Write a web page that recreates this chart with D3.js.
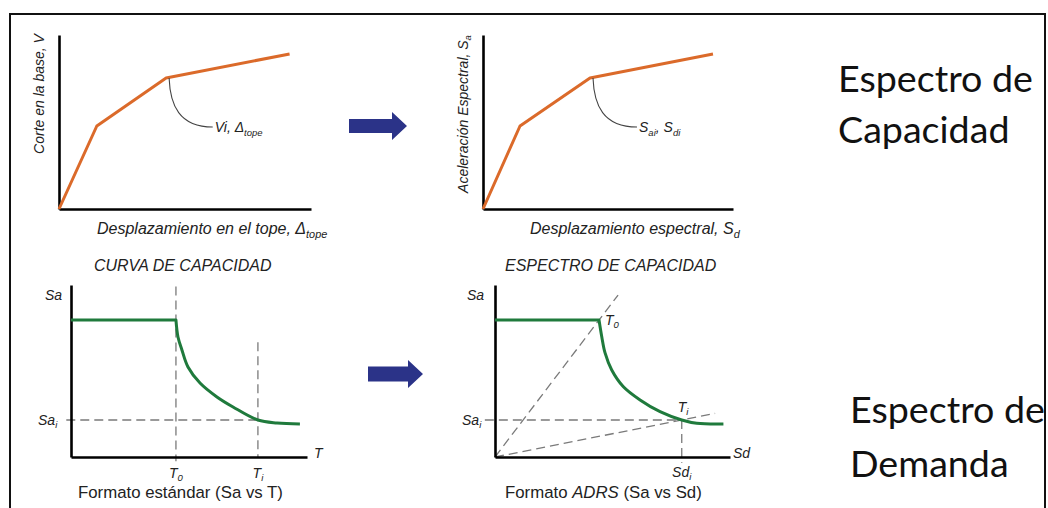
<!DOCTYPE html>
<html><head><meta charset="utf-8">
<script src="https://cdn.jsdelivr.net/npm/d3@7"></script>
<style>
html,body{margin:0;padding:0;background:#fff;}
text{font-family:"Liberation Sans",Arial,sans-serif;fill:#222;}
.big{font-family:Lato,"Open Sans",sans-serif;fill:#111;}
</style></head>
<body>
<svg id="c" width="1048" height="508"></svg>
<script>
// ---- data ----
// capacity curve (base shear vs top displacement)
const capDisp  = [0, 1.5, 4.25, 9.15];
const capShear = [0, 4.77, 7.53, 8.91];
const capCallout = {index: 2, labelX: 6.1, labelY: 4.71};
// capacity spectrum (Sa vs Sd)
const specSd = [0, 1.48, 4.28, 9.2];
const specSa = [0, 4.77, 7.53, 8.91];
const specCallout = {index: 2, labelX: 6.16, labelY: 4.71};
// demand spectrum, standard format (Sa vs T)
const stdT  = [0, 1.334, 1.36, 1.41, 1.487, 1.64, 1.855, 2.06, 2.376, 2.62, 2.91];
const stdSa = [0.956, 0.956, 0.837, 0.747, 0.628, 0.516, 0.419, 0.349, 0.258, 0.237, 0.230];
const stdT0 = 1.334, stdTi = 2.376, stdSai = 0.258, stdTiTop = 0.80, stdT0Top = 1.19;
// demand spectrum, ADRS format (Sa vs Sd)
const adrsSd = [0, 1.328, 1.363, 1.405, 1.49, 1.639, 1.852, 2.107, 2.384, 2.576, 2.916];
const adrsSa = [0.956, 0.956, 0.839, 0.726, 0.607, 0.49, 0.398, 0.316, 0.258, 0.235, 0.230];
const adrsSd0 = 1.328, adrsSdi = 2.384, adrsSai = 0.258;
const adrsRay1End = [1.571, 1.13];
const adrsRay2End = [2.81, 0.304];

const svg = d3.select("#c");
svg.append("rect").attr("width",1048).attr("height",508).attr("fill","#fff");
// frame
svg.append("rect").attr("x",10).attr("y",14).attr("width",1035).attr("height",520)
  .attr("fill","none").attr("stroke","#111").attr("stroke-width",2);

const ORANGE = "#db6a2a", GREEN = "#1f7a3c", DASH = "#7a7a7a";

function axes(g, x, y){
  g.append("g").attr("transform",`translate(0,${y.range()[0]})`)
    .call(d3.axisBottom(x).ticks(0).tickSizeOuter(0))
    .call(s=>s.select(".domain").attr("stroke","#000").attr("stroke-width",2.6));
  g.append("g").attr("transform",`translate(${x.range()[0]},0)`)
    .call(d3.axisLeft(y).ticks(0).tickSizeOuter(0))
    .call(s=>s.select(".domain").attr("stroke","#000").attr("stroke-width",2.6));
}
function addText(g, x, y, parts, opts={}){
  const size = opts.size||16, sd = opts.subDy||4;
  const t = g.append("text").attr("x",x).attr("y",y)
    .attr("font-size",size).attr("font-style",opts.italic===false?"normal":"italic")
    .attr("text-anchor",opts.anchor||"start");
  if(opts.transform) t.attr("transform",opts.transform).attr("x",0).attr("y",0);
  let pending = 0;
  parts.forEach(p=>{
    let ts;
    if(typeof p === "string") ts = t.append("tspan").text(p);
    else if(p.sub){
      ts = t.append("tspan").attr("font-size",size*0.68).text(p.sub);
      ts.attr("dy", pending + sd); pending = -sd; return;
    } else if(p.it){
      ts = t.append("tspan").attr("font-style","italic").text(p.it);
    }
    if(pending){ ts.attr("dy",pending); pending = 0; }
  });
  return t;
}
function capPanel(xs, ys, xd, yd, callout, labelParts){
  const g = svg.append("g");
  const x = d3.scaleLinear().domain([0,10]).range(xs);
  const y = d3.scaleLinear().domain([0,10]).range(ys);
  axes(g,x,y);
  const pts = xd.map((d,i)=>[d,yd[i]]);
  g.append("path").datum(pts).attr("fill","none").attr("stroke",ORANGE).attr("stroke-width",3)
    .attr("stroke-linejoin","round")
    .attr("d", d3.line().x(d=>x(d[0])).y(d=>y(d[1])));
  const k = [x(xd[callout.index])+3, y(yd[callout.index])];
  const l = [x(callout.labelX), y(callout.labelY)];
  const p = d3.path();
  p.moveTo(k[0],k[1]);
  p.bezierCurveTo(k[0]+1, k[1]+27, k[0]+10, l[1], l[0], l[1]);
  g.append("path").attr("d",p.toString()).attr("fill","none").attr("stroke","#444").attr("stroke-width",1.1);
  addText(g, l[0]+2, l[1]+5, labelParts, {size:14});
  return {g,x,y};
}
function demandCurve(g, x, y, xs, ys){
  const pts = xs.map((d,i)=>[d,ys[i]]);
  const plateau = d3.line().x(d=>x(d[0])).y(d=>y(d[1]))(pts.slice(0,2));
  const drop = d3.line().x(d=>x(d[0])).y(d=>y(d[1])).curve(d3.curveCatmullRom.alpha(0.5))(pts.slice(1));
  g.append("path").attr("d", plateau + drop.replace(/^M[^A-Za-z]*/, m=>"L"+m.slice(1)))
    .attr("fill","none").attr("stroke",GREEN).attr("stroke-width",3).attr("stroke-linejoin","round");
}

// ---- panel 1 ----
const p1 = capPanel([59,311],[209,35], capDisp, capShear, capCallout, ["Vi, Δ",{sub:"tope"}]);
addText(p1.g, 97, 234, ["Desplazamiento en el tope, Δ",{sub:"tope"}], {size:16});
addText(p1.g, 0, 0, ["Corte en la base, V"], {size:14, anchor:"middle", transform:"translate(44,94) rotate(-90)"});
addText(p1.g, 94, 271, ["CURVA DE CAPACIDAD"], {size:16});

// ---- panel 2 ----
const p2 = capPanel([483,733],[209,35], specSd, specSa, specCallout, ["S",{sub:"ai"},", S",{sub:"di"}]);
addText(p2.g, 530, 234, ["Desplazamiento espectral, S",{sub:"d"}], {size:16});
addText(p2.g, 0, 0, ["Aceleración Espectral, S",{sub:"a"}], {size:14, anchor:"middle", transform:"translate(468,114) rotate(-90)", subDy:3});
addText(p2.g, 505, 271, ["ESPECTRO DE CAPACIDAD"], {size:16});

// ---- panel 3 ----
{
  const g = svg.append("g");
  const x = d3.scaleLinear().domain([0,3]).range([71,307]);
  const y = d3.scaleLinear().domain([0,1.2]).range([457,285]);
  const dl = (x1,y1,x2,y2)=>g.append("line").attr("x1",x(x1)).attr("y1",y(y1)).attr("x2",x(x2)).attr("y2",y(y2))
      .attr("stroke",DASH).attr("stroke-width",1.3).attr("stroke-dasharray","9,5");
  dl(stdT0, stdT0Top, stdT0, -0.03);
  dl(stdTi, stdTiTop, stdTi, 0);
  dl(-0.06, stdSai, stdTi, stdSai);
  axes(g,x,y);
  demandCurve(g, x, y, stdT, stdSa);
  addText(g, 45, 300, ["Sa"], {size:14});
  addText(g, 38, 425, ["Sa",{sub:"i"}], {size:14, subDy:3});
  addText(g, 314, 458, ["T"], {size:14});
  addText(g, x(stdT0), 478, ["T",{sub:"0"}], {size:14, anchor:"middle", subDy:3});
  addText(g, x(stdTi), 478, ["T",{sub:"i"}], {size:14, anchor:"middle", subDy:3});
  addText(g, 78, 498, ["Formato estándar (Sa vs T)"], {size:16.8, italic:false});
}

// ---- panel 4 ----
{
  const g = svg.append("g");
  const x = d3.scaleLinear().domain([0,3]).range([495,730]);
  const y = d3.scaleLinear().domain([0,1.2]).range([457,285]);
  const dl = (x1,y1,x2,y2)=>g.append("line").attr("x1",x(x1)).attr("y1",y(y1)).attr("x2",x(x2)).attr("y2",y(y2))
      .attr("stroke",DASH).attr("stroke-width",1.3).attr("stroke-dasharray","9,5");
  dl(0, 0, adrsRay1End[0], adrsRay1End[1]);
  dl(0, 0, adrsRay2End[0], adrsRay2End[1]);
  dl(-0.13, adrsSai, adrsSdi, adrsSai);
  dl(adrsSdi, adrsSai, adrsSdi, -0.04);
  axes(g,x,y);
  demandCurve(g, x, y, adrsSd, adrsSa);
  addText(g, 467, 300, ["Sa"], {size:14});
  addText(g, 462, 425, ["Sa",{sub:"i"}], {size:14, subDy:3});
  addText(g, 733, 458, ["Sd"], {size:14});
  addText(g, x(adrsSd0)+6, 325, ["T",{sub:"0"}], {size:14, subDy:3});
  addText(g, x(adrsSdi)-4, 412, ["T",{sub:"i"}], {size:14, subDy:3});
  addText(g, x(adrsSdi), 477, ["Sd",{sub:"i"}], {size:14, anchor:"middle", subDy:3});
  addText(g, 505, 498, ["Formato ",{it:"ADRS"}," (Sa vs Sd)"], {size:16.8, italic:false});
}

// ---- arrows ----
function arrow(cx, cy, len, bodyH, headL, headH){
  const x0 = cx, x1 = cx+len-headL, x2 = cx+len;
  const p = d3.path();
  p.moveTo(x0, cy-bodyH/2); p.lineTo(x1, cy-bodyH/2); p.lineTo(x1, cy-headH/2);
  p.lineTo(x2, cy); p.lineTo(x1, cy+headH/2); p.lineTo(x1, cy+bodyH/2); p.lineTo(x0, cy+bodyH/2); p.closePath();
  svg.append("path").attr("d",p.toString()).attr("fill","#2b3388");
}
arrow(349, 126, 58, 14, 15, 28);
arrow(368, 374, 55, 15, 15, 28);

// ---- side titles ----
const refW = 195;
const probe = svg.append("text").attr("class","big").attr("font-size",100).text("Espectro de");
const fs = 100*refW/probe.node().getComputedTextLength();
probe.remove();
[["Espectro de",838,92],["Capacidad",838,143],["Espectro de",850,423],["Demanda",850,477]].forEach(([s,x,y])=>{
  svg.append("text").attr("class","big").attr("x",x).attr("y",y).attr("font-size",fs).text(s);
});
</script>
</body></html>
